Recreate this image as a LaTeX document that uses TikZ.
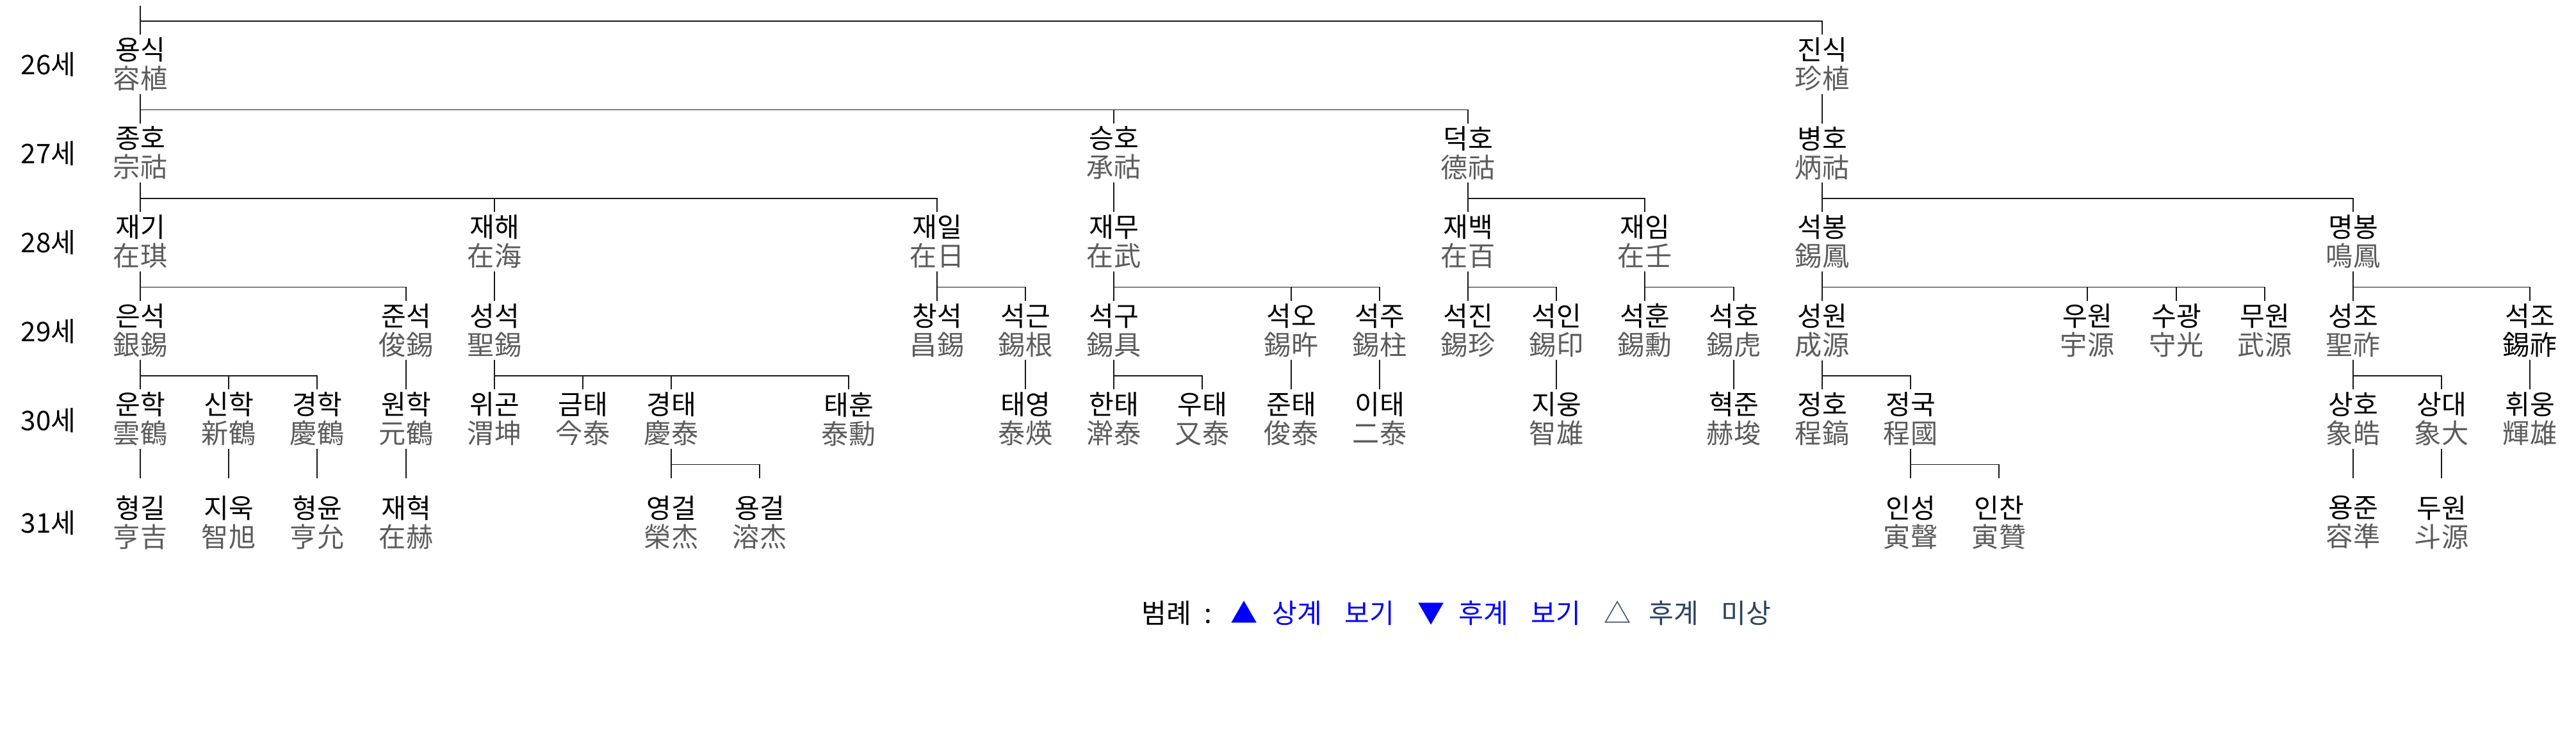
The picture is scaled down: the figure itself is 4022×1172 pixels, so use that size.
\documentclass[tikz,border=0pt]{standalone}
\usepackage{fontspec}
\usepackage{xcolor}
\usepackage{tikz}
\usetikzlibrary{calc,positioning}
\newfontfamily\kr{Noto Sans CJK KR}
\definecolor{hanja}{HTML}{5C5C5C}
\definecolor{unknown}{HTML}{2E4260}
\newcommand\hj[1]{\textcolor{hanja}{#1}}
\tikzset{
  person/.style={align=center, anchor=north, inner sep=0.04cm, font=\kr\fontsize{12pt}{12.8pt}\selectfont},
  gen/.style={anchor=west, inner sep=0pt, font=\kr\fontsize{12pt}{12.8pt}\selectfont},
  legend/.style={inner sep=0pt, font=\kr\fontsize{12pt}{12.8pt}\selectfont},
  link/.style={draw=black!90, line width=0.55pt},
  fork/.style={to path={(\tikztostart) |- ($(\tikztotarget)+(0,-#1)$) -- (\tikztotarget)}},
  fork/.default=21,
  late/.style={fork=44, shorten >=0.23cm}
}
\begin{document}
\begin{tikzpicture}[x=0.01cm,y=-0.01cm]
    \useasboundingbox (0,0) rectangle (4022,1172);
    \node[gen] (g26) at (32,101) {26세};
    \node[gen] (g27) at (32,240) {27세};
    \node[gen] (g28) at (32,379) {28세};
    \node[gen] (g29) at (32,518) {29세};
    \node[gen] (g30) at (32,657) {30세};
    \node[gen] (g31) at (32,817) {31세};
    % 26
    \node[person] (yongsik) at (219,54) {용식\\\hj{容植}};
    \node[person] (jinsik) at (2845,54) {진식\\\hj{珍植}};
    % 27
    \node[person] (jongho) at (219,192.5) {종호\\\hj{宗祜}};
    \node[person] (seungho) at (1739,192.5) {승호\\\hj{承祜}};
    \node[person] (deokho) at (2292,192.5) {덕호\\\hj{德祜}};
    \node[person] (byeongho) at (2845,192.5) {병호\\\hj{炳祜}};
    % 28
    \node[person] (jaegi) at (219,331) {재기\\\hj{在琪}};
    \node[person] (jaehae) at (772,331) {재해\\\hj{在海}};
    \node[person] (jaeil) at (1463,331) {재일\\\hj{在日}};
    \node[person] (jaemu) at (1739,331) {재무\\\hj{在武}};
    \node[person] (jaebaek) at (2292,331) {재백\\\hj{在百}};
    \node[person] (jaeim) at (2568,331) {재임\\\hj{在壬}};
    \node[person] (seokbong) at (2845,331) {석봉\\\hj{錫鳳}};
    \node[person] (myeongbong) at (3674,331) {명봉\\\hj{鳴鳳}};
    % 29
    \node[person] (eunseok) at (219,469.5) {은석\\\hj{銀錫}};
    \node[person] (junseok) at (634,469.5) {준석\\\hj{俊錫}};
    \node[person] (seongseok) at (772,469.5) {성석\\\hj{聖錫}};
    \node[person] (changseok) at (1463,469.5) {창석\\\hj{昌錫}};
    \node[person] (seokgeun) at (1601,469.5) {석근\\\hj{錫根}};
    \node[person] (seokgu) at (1739,469.5) {석구\\\hj{錫具}};
    \node[person] (seoko) at (2016,469.5) {석오\\\hj{錫旿}};
    \node[person] (seokju) at (2154,469.5) {석주\\\hj{錫柱}};
    \node[person] (seokjin) at (2292,469.5) {석진\\\hj{錫珍}};
    \node[person] (seokin) at (2430,469.5) {석인\\\hj{錫印}};
    \node[person] (seokhun) at (2568,469.5) {석훈\\\hj{錫勳}};
    \node[person] (seokho) at (2707,469.5) {석호\\\hj{錫虎}};
    \node[person] (seongwon) at (2845,469.5) {성원\\\hj{成源}};
    \node[person] (uwon) at (3259,469.5) {우원\\\hj{宇源}};
    \node[person] (sugwang) at (3398,469.5) {수광\\\hj{守光}};
    \node[person] (muwon) at (3536,469.5) {무원\\\hj{武源}};
    \node[person] (seongjo) at (3674,469.5) {성조\\\hj{聖祚}};
    \node[person] (seokjo) at (3950,469.5) {석조\\錫祚};
    % 30
    \node[person] (unhak) at (219,608) {운학\\\hj{雲鶴}};
    \node[person] (sinhak) at (357,608) {신학\\\hj{新鶴}};
    \node[person] (gyeonghak) at (495,608) {경학\\\hj{慶鶴}};
    \node[person] (wonhak) at (634,608) {원학\\\hj{元鶴}};
    \node[person] (wigon) at (772,608) {위곤\\\hj{渭坤}};
    \node[person] (geumtae) at (910,608) {금태\\\hj{今泰}};
    \node[person] (gyeongtae) at (1048,608) {경태\\\hj{慶泰}};
    \node[person] (taehun) at (1325,608) {태훈\\\hj{泰勳}};
    \node[person] (taeyeong) at (1601,608) {태영\\\hj{泰煐}};
    \node[person] (hantae) at (1739,608) {한태\\\hj{澣泰}};
    \node[person] (utae) at (1877,608) {우태\\\hj{又泰}};
    \node[person] (juntae) at (2016,608) {준태\\\hj{俊泰}};
    \node[person] (itae) at (2154,608) {이태\\\hj{二泰}};
    \node[person] (jiung) at (2430,608) {지웅\\\hj{智雄}};
    \node[person] (hyeokjun) at (2707,608) {혁준\\\hj{赫埈}};
    \node[person] (jeongho) at (2845,608) {정호\\\hj{程鎬}};
    \node[person] (jeongguk) at (2983,608) {정국\\\hj{程國}};
    \node[person] (sangho) at (3674,608) {상호\\\hj{象皓}};
    \node[person] (sangdae) at (3812,608) {상대\\\hj{象大}};
    \node[person] (hwiung) at (3950,608) {휘웅\\\hj{輝雄}};
    % 31
    \node[person] (hyeonggil) at (219,769.5) {형길\\\hj{亨吉}};
    \node[person] (jiuk) at (357,769.5) {지욱\\\hj{智旭}};
    \node[person] (hyeongyun) at (495,769.5) {형윤\\\hj{亨允}};
    \node[person] (jaehyeok) at (634,769.5) {재혁\\\hj{在赫}};
    \node[person] (yeonggeol) at (1048,769.5) {영걸\\\hj{榮杰}};
    \node[person] (yonggeol) at (1186,769.5) {용걸\\\hj{溶杰}};
    \node[person] (inseong) at (2983,769.5) {인성\\\hj{寅聲}};
    \node[person] (inchan) at (3121,769.5) {인찬\\\hj{寅贊}};
    \node[person] (yongjun) at (3674,769.5) {용준\\\hj{容準}};
    \node[person] (duwon) at (3812,769.5) {두원\\\hj{斗源}};

    \coordinate (root) at (219,9);
    \path[link] (root) edge[fork] (yongsik.north) edge[fork] (jinsik.north);
    \path[link] (yongsik.south) edge[fork] (jongho.north) edge[fork] (seungho.north) edge[fork] (deokho.north);
    \path[link] (jinsik.south) edge[fork] (byeongho.north);
    \path[link] (jongho.south) edge[fork] (jaegi.north) edge[fork] (jaehae.north) edge[fork] (jaeil.north);
    \path[link] (seungho.south) edge[fork] (jaemu.north);
    \path[link] (deokho.south) edge[fork] (jaebaek.north) edge[fork] (jaeim.north);
    \path[link] (byeongho.south) edge[fork] (seokbong.north) edge[fork] (myeongbong.north);
    \path[link] (jaegi.south) edge[fork] (eunseok.north) edge[fork] (junseok.north);
    \path[link] (jaehae.south) edge[fork] (seongseok.north);
    \path[link] (jaeil.south) edge[fork] (changseok.north) edge[fork] (seokgeun.north);
    \path[link] (jaemu.south) edge[fork] (seokgu.north) edge[fork] (seoko.north) edge[fork] (seokju.north);
    \path[link] (jaebaek.south) edge[fork] (seokjin.north) edge[fork] (seokin.north);
    \path[link] (jaeim.south) edge[fork] (seokhun.north) edge[fork] (seokho.north);
    \path[link] (seokbong.south) edge[fork] (seongwon.north) edge[fork] (uwon.north) edge[fork] (sugwang.north) edge[fork] (muwon.north);
    \path[link] (myeongbong.south) edge[fork] (seongjo.north) edge[fork] (seokjo.north);
    \path[link] (eunseok.south) edge[fork] (unhak.north) edge[fork] (sinhak.north) edge[fork] (gyeonghak.north);
    \path[link] (junseok.south) edge[fork] (wonhak.north);
    \path[link] (seongseok.south) edge[fork] (wigon.north) edge[fork] (geumtae.north) edge[fork] (gyeongtae.north) edge[fork] (taehun.north);
    \path[link] (seokgeun.south) edge[fork] (taeyeong.north);
    \path[link] (seokgu.south) edge[fork] (hantae.north) edge[fork] (utae.north);
    \path[link] (seoko.south) edge[fork] (juntae.north);
    \path[link] (seokju.south) edge[fork] (itae.north);
    \path[link] (seokin.south) edge[fork] (jiung.north);
    \path[link] (seokho.south) edge[fork] (hyeokjun.north);
    \path[link] (seongwon.south) edge[fork] (jeongho.north) edge[fork] (jeongguk.north);
    \path[link] (seongjo.south) edge[fork] (sangho.north) edge[fork] (sangdae.north);
    \path[link] (seokjo.south) edge[fork] (hwiung.north);
    \path[link] (unhak.south) edge[late] (hyeonggil.north);
    \path[link] (sinhak.south) edge[late] (jiuk.north);
    \path[link] (gyeonghak.south) edge[late] (hyeongyun.north);
    \path[link] (wonhak.south) edge[late] (jaehyeok.north);
    \path[link] (gyeongtae.south) edge[late] (yeonggeol.north) edge[late] (yonggeol.north);
    \path[link] (jeongguk.south) edge[late] (inseong.north) edge[late] (inchan.north);
    \path[link] (sangho.south) edge[late] (yongjun.north);
    \path[link] (sangdae.south) edge[late] (duwon.north);

    \node[legend, anchor=west] (lgkey) at (1782,958) {범례\hspace{0.2cm}:};
    \node[legend, text=blue, right=0.28cm of lgkey] (lgup) {▲\hspace{0.23cm}상계\hspace{0.35cm}보기};
    \node[legend, text=blue, right=0.35cm of lgup] (lgdown) {▼\hspace{0.22cm}후계\hspace{0.35cm}보기};
    \node[legend, text=unknown, right=0.35cm of lgdown] (lgnone) {△\hspace{0.28cm}후계\hspace{0.35cm}미상};
\end{tikzpicture}
\end{document}
